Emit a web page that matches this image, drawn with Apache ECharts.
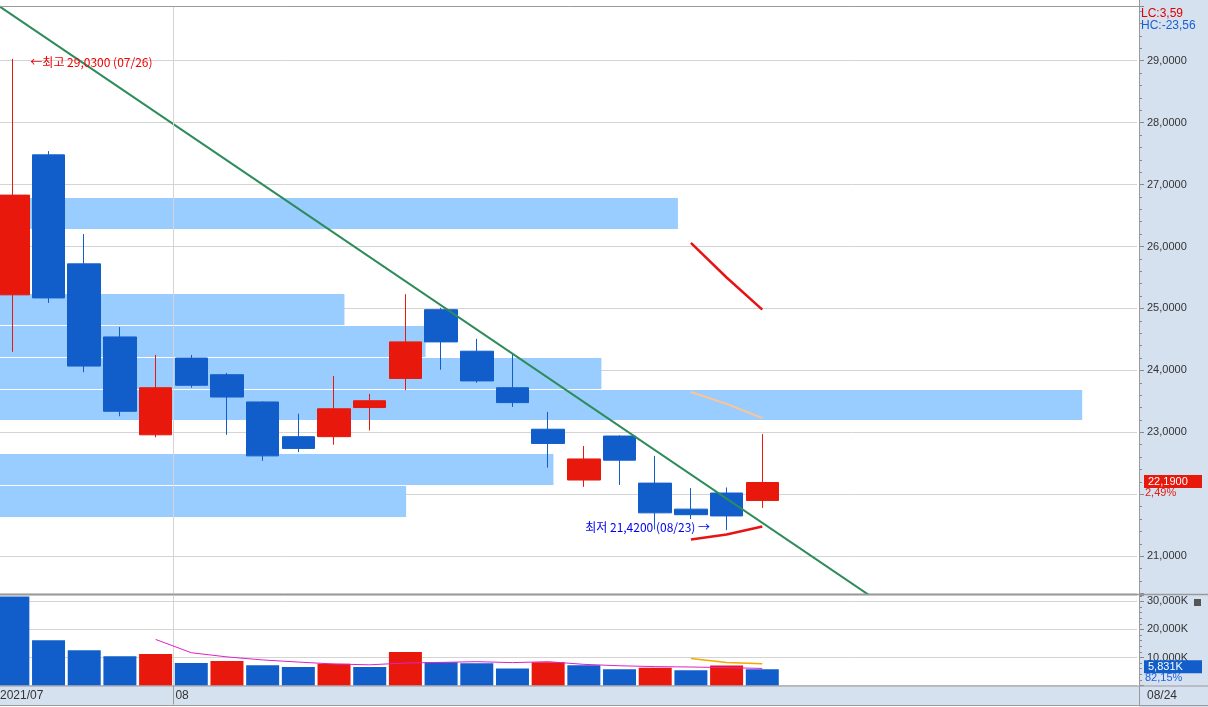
<!DOCTYPE html>
<html><head><meta charset="utf-8">
<script src="https://cdn.jsdelivr.net/npm/echarts@6/dist/echarts.min.js"></script>
<style>html,body{margin:0;padding:0;background:#fff}#c{width:1208px;height:707px}</style>
</head><body><div id="c"></div>
<script>
// ---------- data ----------
const dates = ['2021/07/26','2021/07/27','2021/07/28','2021/07/29','2021/07/30','2021/08/02','2021/08/03','2021/08/04','2021/08/05','2021/08/06','2021/08/09','2021/08/10','2021/08/11','2021/08/12','2021/08/13','2021/08/16','2021/08/17','2021/08/18','2021/08/19','2021/08/20','2021/08/23','2021/08/24'];
const openP  = [25.22, 27.48, 25.72, 24.54, 22.96, 24.20, 23.93, 23.49, 22.93, 22.93, 23.40, 23.87, 24.98, 24.31, 23.72, 23.05, 22.23, 22.94, 22.18, 21.76, 22.02, 21.90];
const closeP = [26.83, 25.17, 24.07, 23.34, 23.72, 23.76, 23.57, 22.62, 22.74, 23.38, 23.51, 24.46, 24.46, 23.83, 23.48, 22.82, 22.57, 22.55, 21.70, 21.67, 21.65, 22.19];
const lowP   = [24.30, 25.09, 23.97, 23.26, 22.92, 23.72, 22.96, 22.54, 22.68, 22.80, 23.03, 23.68, 24.01, 23.80, 23.41, 22.43, 22.12, 22.15, 21.43, 21.60, 21.42, 21.78];
const highP  = [29.03, 27.54, 26.20, 24.70, 24.25, 24.25, 23.96, 23.50, 23.30, 23.91, 23.62, 25.23, 25.01, 24.51, 24.27, 23.33, 22.78, 22.95, 22.62, 22.10, 22.11, 22.97];
const volumeK = [31760, 16190, 12590, 10430, 11260, 8020, 8740, 7190, 6590, 7800, 6590, 11980, 8270, 7900, 6100, 8270, 7190, 5760, 6370, 5400, 7098, 5831];

// price-by-volume bands (low, high, relative share in % of pane width)
const bandLow   = [26.26, 24.72, 24.20, 23.69, 23.18, 22.13, 21.61];
const bandHigh  = [26.78, 25.23, 24.72, 24.20, 23.69, 22.65, 22.13];
const bandShare = [59.8, 30.6, 37.7, 53.1, 95.2, 48.9, 36.0];

// trend line anchors (index, price)
const trendIdx   = [-0.5, 24];
const trendPrice = [29.925, 20.369];

// short indicator lines over the last three sessions
const sigIdx      = [19, 20, 21];
const upperLine   = [26.06, 25.50, 24.98];
const middleLine  = [23.65, 23.46, 23.23];
const lowerLine   = [21.27, 21.35, 21.48];
const volSignal   = [9600, 8170, 7800];

const lcText = 'LC:3,59';
const hcText = 'HC:-23,56';

// ---------- helpers ----------
const RED = '#e8190c', BLUE = '#115ecb', BAND = '#99ccff', GRIDC = '#d4d4d4', FRAME = '#9a9a9a', PANEL = '#d6e1f0';
const NUMFONT = '"Liberation Sans", Arial, sans-serif';
const KRFONT = '"Noto Sans CJK KR", sans-serif';
const fmtPrice = v => v.toFixed(4).replace('.', ',');
const fmtPct = v => v.toFixed(2).replace('.', ',') + '%';
const fmtVol = v => Math.round(v).toLocaleString('en-US') + 'K';
const md = d => d.slice(5);

const N = dates.length;
const SLOTS = 32;
const cats = dates.concat(Array.from({length: SLOTS - N}, (_, i) => 'pad' + i));
const last = N - 1;

let hiIdx = 0, loIdx = 0;
highP.forEach((v, i) => { if (v > highP[hiIdx]) hiIdx = i; });
lowP.forEach((v, i) => { if (v < lowP[loIdx]) loIdx = i; });

// month boundaries (boundary k sits on the left edge of slot k)
const monthStarts = [];
dates.forEach((d, i) => { if (i === 0 || d.slice(0, 7) !== dates[i - 1].slice(0, 7)) monthStarts.push(i); });
const boundaryNames = Array.from({length: SLOTS + 1}, (_, k) => {
  const m = monthStarts.indexOf(k);
  if (m < 0) return 'b' + k;
  return m === 0 ? dates[k].slice(0, 7) : dates[k].slice(5, 7);
});
const isMonthBoundary = k => monthStarts.indexOf(k) >= 0;

const ma5 = [];
for (let i = 4; i < N; i++) {
  let s = 0; for (let j = i - 4; j <= i; j++) s += volumeK[j];
  ma5.push([i, s / 5]);
}

const candleData = dates.map((d, i) => [openP[i], closeP[i], lowP[i], highP[i]]);
const volData = volumeK.map((v, i) => ({value: v, itemStyle: {color: (i > 0 && v > volumeK[i - 1]) ? RED : BLUE}}));
const bandData = bandLow.map((l, i) => [l, bandHigh[i], bandShare[i]]);

const pricePct = (closeP[last] / closeP[last - 1] - 1) * 100;
const volPct = volumeK[last] / volumeK[last - 1] * 100;

const chart = echarts.init(document.getElementById('c'), null, {renderer: 'canvas'});
const gridBase = {left: -5, right: 71, containLabel: false, outerBoundsMode: 'none'};
const noZero = {show: false, onZero: false};

const option = {
  animation: false,
  backgroundColor: '#ffffff',
  textStyle: {fontFamily: NUMFONT},
  grid: [
    Object.assign({top: 6, bottom: 114}, gridBase),
    Object.assign({top: 595, bottom: 21.5}, gridBase)
  ],
  xAxis: [
    {type: 'category', gridIndex: 0, position: 'bottom', data: cats, boundaryGap: true, show: false, axisLine: noZero},
    {type: 'value', gridIndex: 0, position: 'bottom', min: -0.5, max: SLOTS - 0.5, show: false, axisLine: noZero},
    {type: 'value', gridIndex: 0, position: 'top', min: 0, max: 100, show: false, axisLine: noZero},
    {type: 'category', gridIndex: 1, position: 'top', data: cats, boundaryGap: true, show: false, axisLine: noZero},
    // boundary axis: one point per slot edge, carries month labels, ticks and the month split line
    {type: 'category', gridIndex: 1, position: 'bottom', data: boundaryNames, boundaryGap: false,
      axisLine: noZero,
      splitLine: {show: true, interval: (k) => k > 0 && isMonthBoundary(k), lineStyle: {color: GRIDC, width: 1}},
      axisTick: {show: true, interval: (k) => isMonthBoundary(k), length: 19, lineStyle: {color: FRAME, width: 1}},
      axisLabel: {show: true, interval: (k) => isMonthBoundary(k),
        align: 'left', margin: 4, color: '#333', fontSize: 12, fontFamily: NUMFONT,
        formatter: (v, k) => (k === 0 ? '{f|' : '{m|') + v + '}',
        rich: {f: {padding: [0, 0, 0, 5], color: '#333', fontSize: 12, fontFamily: NUMFONT},
               m: {padding: [0, 0, 0, 2], color: '#333', fontSize: 12, fontFamily: NUMFONT}}
      }
    }
  ],
  yAxis: [
    {type: 'value', gridIndex: 0, position: 'right', offset: 2, min: 20.406, max: 29.883, splitNumber: 9,
      axisLine: noZero,
      axisTick: {show: true, length: 5, lineStyle: {color: '#888'}},
      minorTick: {show: true, splitNumber: 5, length: 3, lineStyle: {color: '#888'}},
      minorSplitLine: {show: false},
      splitLine: {show: true, lineStyle: {color: GRIDC, width: 1}},
      axisLabel: {showMinLabel: false, showMaxLabel: false, color: '#333', fontSize: 11, fontFamily: NUMFONT, margin: 8,
        formatter: v => Math.abs(v - closeP[last]) < 0.25 ? '' : fmtPrice(v)}
    },
    {type: 'value', gridIndex: 1, position: 'right', offset: 2, min: 0, max: 32300, interval: 10000,
      axisLine: noZero,
      axisTick: {show: true, length: 5, lineStyle: {color: '#888'}},
      minorTick: {show: true, splitNumber: 5, length: 3, lineStyle: {color: '#888'}},
      minorSplitLine: {show: false},
      splitLine: {show: true, lineStyle: {color: GRIDC, width: 1}},
      axisLabel: {showMinLabel: false, showMaxLabel: false, color: '#333', fontSize: 11, fontFamily: NUMFONT, margin: 8,
        formatter: v => fmtVol(v)}
    }
  ],
  series: [
    // month boundary line (main pane)
    {type: 'line', xAxisIndex: 1, yAxisIndex: 0, data: [], z: 1, silent: true,
      markLine: {silent: true, symbol: ['none', 'none'], label: {show: false},
        lineStyle: {color: GRIDC, width: 1, type: 'solid'},
        data: monthStarts.slice(1).map(i => ({xAxis: i - 0.5}))}},
    // price bands
    {type: 'custom', xAxisIndex: 2, yAxisIndex: 0, z: 2, silent: true, clip: true,
      encode: {x: 2, y: [0, 1]},
      data: bandData,
      renderItem: (params, api) => {
        const p1 = api.coord([0, api.value(1)]);
        const p2 = api.coord([api.value(2), api.value(0)]);
        return {type: 'rect', shape: {x: p1[0], y: Math.round(p1[1]), width: p2[0] - p1[0], height: Math.round(p2[1]) - Math.round(p1[1]) - 1},
          style: {fill: BAND}};
      }},
    // candles
    {type: 'candlestick', xAxisIndex: 0, yAxisIndex: 0, z: 3, barWidth: 33,
      data: candleData,
      itemStyle: {color: RED, color0: BLUE, borderColor: RED, borderColor0: BLUE, borderWidth: 1},
      markPoint: {
        symbol: 'circle', symbolSize: 1, itemStyle: {color: 'rgba(0,0,0,0)'}, silent: true,
        label: {show: true, fontSize: 12, fontFamily: KRFONT},
        data: [
          {coord: [hiIdx, highP[hiIdx]], value: highP[hiIdx],
            label: {position: 'right', distance: 17, offset: [0, 4], color: '#f00000',
              formatter: '←최고 ' + fmtPrice(highP[hiIdx]) + ' (' + md(dates[hiIdx]) + ')'}},
          {coord: [loIdx, lowP[loIdx]], value: lowP[loIdx],
            label: {position: 'left', distance: 16, offset: [0, -3], color: '#0000f0',
              formatter: '최저 ' + fmtPrice(lowP[loIdx]) + ' (' + md(dates[loIdx]) + ') →'}}
        ]
      }},
    // trend line
    {type: 'line', xAxisIndex: 1, yAxisIndex: 0, z: 4, symbol: 'none', silent: true,
      data: trendIdx.map((x, i) => [x, trendPrice[i]]),
      lineStyle: {color: '#2e8b5a', width: 2}},
    {type: 'line', xAxisIndex: 1, yAxisIndex: 0, z: 4, symbol: 'none', silent: true,
      data: sigIdx.map((x, i) => [x, upperLine[i]]), lineStyle: {color: '#e81414', width: 2.5}},
    {type: 'line', xAxisIndex: 1, yAxisIndex: 0, z: 4, symbol: 'none', silent: true,
      data: sigIdx.map((x, i) => [x, middleLine[i]]), lineStyle: {color: '#ffc490', width: 2}},
    {type: 'line', xAxisIndex: 1, yAxisIndex: 0, z: 4, symbol: 'none', silent: true,
      data: sigIdx.map((x, i) => [x, lowerLine[i]]), lineStyle: {color: '#e81414', width: 2.5}},
    // price tag on axis
    {type: 'custom', xAxisIndex: 1, yAxisIndex: 0, z: 10, clip: false, silent: true,
      encode: {x: 0, y: 1},
      data: [[last, closeP[last]]],
      renderItem: (params, api) => {
        const y = api.coord([api.value(0), api.value(1)])[1];
        return {type: 'group', children: [
          {type: 'rect', shape: {x: 1144, y: y - 7.5, width: 58, height: 13}, style: {fill: RED}},
          {type: 'text', style: {x: 1148, y: y - 1, text: fmtPrice(api.value(1)), fill: '#fff', font: '11px ' + NUMFONT, verticalAlign: 'middle'}},
          {type: 'text', style: {x: 1145, y: y + 10.5, text: fmtPct(pricePct), fill: RED, font: '11px ' + NUMFONT, verticalAlign: 'middle'}}
        ]};
      }},
    // volume
    {type: 'bar', xAxisIndex: 3, yAxisIndex: 1, z: 2, barWidth: 33, data: volData, silent: true},
    {type: 'line', xAxisIndex: 3, yAxisIndex: 1, z: 3, symbol: 'none', silent: true,
      data: ma5, lineStyle: {color: '#e020c8', width: 1}},
    {type: 'line', xAxisIndex: 3, yAxisIndex: 1, z: 3, symbol: 'none', silent: true,
      data: sigIdx.map((x, i) => [x, volSignal[i]]), lineStyle: {color: '#f5a800', width: 1.5}},
    {type: 'custom', xAxisIndex: 3, yAxisIndex: 1, z: 10, clip: false, silent: true,
      encode: {x: 0, y: 1},
      data: [[last, volumeK[last]]],
      renderItem: (params, api) => {
        const y = api.coord([api.value(0), api.value(1)])[1];
        return {type: 'group', children: [
          {type: 'rect', shape: {x: 1144, y: y - 9, width: 58, height: 13}, style: {fill: BLUE}},
          {type: 'text', style: {x: 1148, y: y - 2.5, text: fmtVol(api.value(1)), fill: '#fff', font: '11px ' + NUMFONT, verticalAlign: 'middle'}},
          {type: 'text', style: {x: 1145, y: y + 9, text: fmtPct(volPct), fill: '#1f5fe0', font: '11px ' + NUMFONT, verticalAlign: 'middle'}}
        ]};
      }}
  ],
  graphic: {elements: [
    {type: 'rect', z: -10, silent: true, shape: {x: 1139, y: 0, width: 69, height: 707}, style: {fill: PANEL}},
    {type: 'rect', z: -10, silent: true, shape: {x: 0, y: 686, width: 1208, height: 19}, style: {fill: PANEL}},
    {type: 'line', z: 100, silent: true, shape: {x1: 0, y1: 6.5, x2: 1139, y2: 6.5}, style: {stroke: FRAME, lineWidth: 1}},
    {type: 'line', z: 100, silent: true, shape: {x1: 0, y1: 594.5, x2: 1208, y2: 594.5}, style: {stroke: FRAME, lineWidth: 1.5}},
    {type: 'line', z: 100, silent: true, shape: {x1: 0, y1: 686, x2: 1208, y2: 686}, style: {stroke: FRAME, lineWidth: 1}},
    {type: 'line', z: 100, silent: true, shape: {x1: 0, y1: 705.5, x2: 1208, y2: 705.5}, style: {stroke: FRAME, lineWidth: 1}},
    {type: 'line', z: 100, silent: true, shape: {x1: 1139.5, y1: 0, x2: 1139.5, y2: 706}, style: {stroke: FRAME, lineWidth: 1}},
    {type: 'text', z: 100, silent: true, style: {x: 1141, y: 14, text: lcText, fill: '#e00000', font: '12px ' + NUMFONT, verticalAlign: 'middle'}},
    {type: 'text', z: 100, silent: true, style: {x: 1141, y: 26, text: hcText, fill: '#1a5fd0', font: '12px ' + NUMFONT, verticalAlign: 'middle'}},
    {type: 'text', z: 100, silent: true, style: {x: 1147, y: 696, text: md(dates[last]), fill: '#333', font: '12px ' + NUMFONT, verticalAlign: 'middle'}},
    {type: 'rect', z: 100, silent: true, shape: {x: 1194, y: 599, width: 7, height: 7}, style: {fill: '#555'}}
  ]}
};
chart.setOption(option);
</script>
</body></html>
